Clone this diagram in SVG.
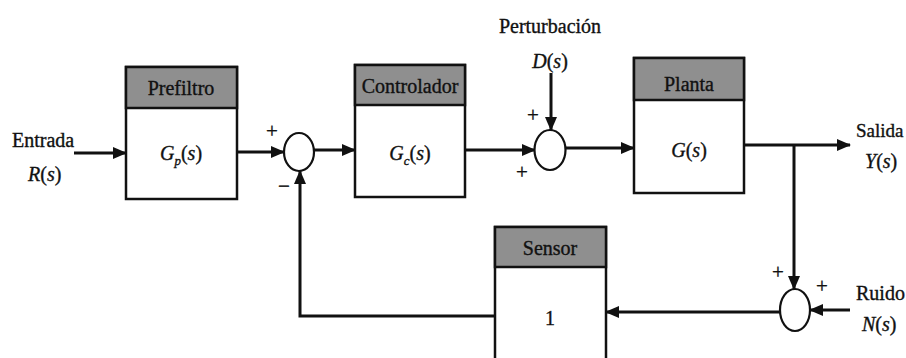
<svg xmlns="http://www.w3.org/2000/svg" width="906" height="358" viewBox="0 0 906 358">
<style>
text{font-family:"Liberation Serif","DejaVu Serif",serif;font-size:20px;fill:#111;stroke:#111;stroke-width:0.35}
.c{text-anchor:middle}
.i{font-style:italic}
.sub{font-size:13px;font-style:italic}
.box{fill:#fff;stroke:#111;stroke-width:2.5}
.hdr{fill:#8f8f8f;stroke:#111;stroke-width:2.5}
.sum{fill:#fff;stroke:#111;stroke-width:2.2}
.w{fill:none;stroke:#111;stroke-width:3}
.sg{font-size:21px}
</style>
<defs>
<marker id="ah" markerUnits="userSpaceOnUse" markerWidth="14" markerHeight="12" refX="13" refY="6" orient="auto">
<path d="M0,0 L14,6 L0,12 Z" fill="#111"/>
</marker>
</defs>
<g id="connectors">
<line class="w" x1="74" y1="153" x2="126" y2="153" marker-end="url(#ah)"/>
<line class="w" x1="237" y1="152" x2="284" y2="152" marker-end="url(#ah)"/>
<line class="w" x1="314" y1="150" x2="355" y2="150" marker-end="url(#ah)"/>
<line class="w" x1="465" y1="150" x2="535" y2="150" marker-end="url(#ah)"/>
<line class="w" x1="566" y1="148" x2="634" y2="148" marker-end="url(#ah)"/>
<line class="w" x1="551" y1="73" x2="551" y2="130" marker-end="url(#ah)"/>
<line class="w" x1="744" y1="145" x2="850" y2="145" marker-end="url(#ah)"/>
<polyline class="w" points="794,145 794,289" marker-end="url(#ah)"/>
<line class="w" x1="850" y1="310" x2="810" y2="310" marker-end="url(#ah)"/>
<line class="w" x1="780" y1="312" x2="606" y2="312" marker-end="url(#ah)"/>
<polyline class="w" points="495,316 300,316 300,171" marker-end="url(#ah)"/>
</g>
<g id="prefiltro">
<rect class="box" x="126" y="67" width="111" height="132"/>
<rect class="hdr" x="126" y="67" width="111" height="41"/>
<text class="c" x="181" y="95">Prefiltro</text>
<text class="c" x="181" y="160"><tspan class="i">G</tspan><tspan class="sub" dy="5">p</tspan><tspan dy="-5">(</tspan><tspan class="i">s</tspan>)</text>
</g>
<g id="controlador">
<rect class="box" x="355" y="65" width="110" height="132"/>
<rect class="hdr" x="355" y="65" width="110" height="40"/>
<text class="c" x="410" y="93">Controlador</text>
<text class="c" x="410" y="160"><tspan class="i">G</tspan><tspan class="sub" dy="5">c</tspan><tspan dy="-5">(</tspan><tspan class="i">s</tspan>)</text>
</g>
<g id="planta">
<rect class="box" x="634" y="58" width="110" height="135"/>
<rect class="hdr" x="634" y="58" width="110" height="42"/>
<text class="c" x="689" y="91">Planta</text>
<text class="c" x="689" y="157"><tspan class="i">G</tspan>(<tspan class="i">s</tspan>)</text>
</g>
<g id="sensor">
<rect class="box" x="495" y="227" width="111" height="140"/>
<rect class="hdr" x="495" y="227" width="111" height="40"/>
<text class="c" x="550" y="255">Sensor</text>
<text class="c" x="550" y="325">1</text>
</g>
<g id="sum1">
<ellipse class="sum" cx="299" cy="152" rx="15" ry="19"/>
<text class="c sg" x="272" y="138">+</text>
<text class="c sg" x="284" y="193">−</text>
</g>
<g id="sum2">
<ellipse class="sum" cx="550" cy="150" rx="15.5" ry="20"/>
<text class="c sg" x="533" y="122">+</text>
<text class="c sg" x="522" y="179">+</text>
</g>
<g id="sum3">
<ellipse class="sum" cx="795" cy="310" rx="15" ry="21"/>
<text class="c sg" x="778" y="279">+</text>
<text class="c sg" x="822" y="293">+</text>
</g>
<g id="labels">
<text class="c" x="550" y="33">Perturbación</text>
<text class="c" x="550" y="68"><tspan class="i">D</tspan>(<tspan class="i">s</tspan>)</text>
<text x="12" y="147">Entrada</text>
<text x="28" y="181"><tspan class="i">R</tspan>(<tspan class="i">s</tspan>)</text>
<text x="856" y="137" style="font-size:19px">Salida</text>
<text x="865" y="168"><tspan class="i">Y</tspan>(<tspan class="i">s</tspan>)</text>
<text x="856" y="300">Ruido</text>
<text x="862" y="331"><tspan class="i">N</tspan>(<tspan class="i">s</tspan>)</text>
</g>
</svg>
